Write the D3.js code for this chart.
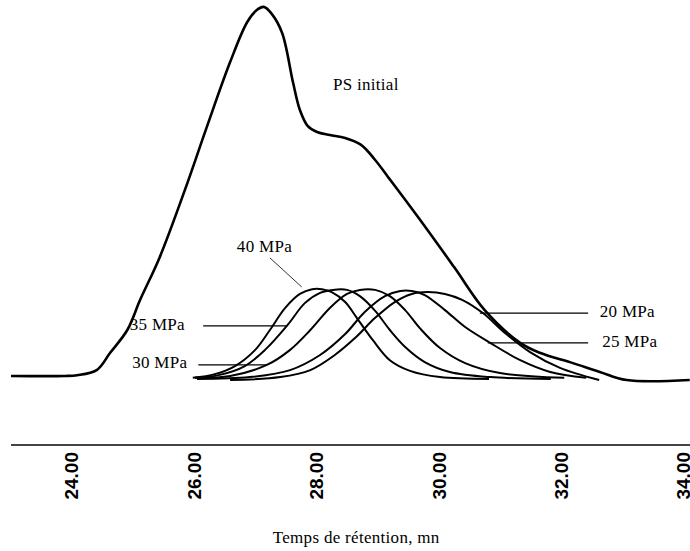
<!DOCTYPE html>
<html>
<head>
<meta charset="utf-8">
<script src="https://cdn.jsdelivr.net/npm/d3@7"></script>
<style>
  html, body { margin: 0; padding: 0; background: #fff; }
  svg { display: block; }
</style>
</head>
<body>
<svg id="chart" width="690" height="551"></svg>
<script>
// ---- Data (time in min, intensity in arbitrary units, 100 = PS peak) ----
const xTicks = [24, 26, 28, 30, 32, 34];

const psTime = [23.02, 23.90, 24.10, 24.42, 24.64, 24.92, 25.13, 25.45, 25.86, 26.22, 26.60, 26.88, 27.04, 27.15, 27.28, 27.45, 27.63, 27.74, 27.87, 28.02, 28.23, 28.48, 28.74, 28.97, 29.18, 29.67, 30.26, 30.76, 31.34, 31.66, 32.20, 32.64, 33.08, 34.11];
const psValue = [0, 0, 0.2, 1.6, 6.3, 12.5, 20.7, 32.3, 50.5, 67.7, 85.3, 96.2, 99.5, 100.3, 98.4, 93.2, 79.6, 72.3, 67.9, 66.3, 65.5, 64.7, 62.8, 58.7, 54.1, 43.2, 29.6, 17.9, 9.0, 6.3, 3.5, 1.1, -1.1, -1.1];

const t40 = [25.99, 26.35, 26.68, 27.01, 27.25, 27.50, 27.74, 27.94, 28.10, 28.26, 28.48, 28.67, 28.93, 29.21, 29.54, 30.03, 30.83];
const v40 = [-0.5, 0.5, 2.7, 7.1, 12.5, 18.5, 22.3, 23.6, 23.6, 22.8, 20.1, 15.8, 9.8, 4.3, 1.4, -0.3, -0.8];

const t35 = [26.03, 26.43, 26.84, 27.17, 27.55, 27.82, 28.07, 28.28, 28.51, 28.72, 28.97, 29.21, 29.46, 29.78, 30.19, 30.85, 31.84];
const v35 = [-0.5, 0.3, 2.7, 7.1, 14.1, 19.8, 22.6, 23.4, 23.4, 21.7, 17.7, 12.5, 7.9, 3.8, 1.1, -0.3, -0.8];

const t30 = [26.03, 26.60, 27.20, 27.58, 27.91, 28.23, 28.51, 28.72, 28.97, 29.21, 29.46, 29.70, 30.03, 30.44, 31.01, 32.06];
const v30 = [-0.5, 0, 3.0, 7.1, 12.5, 18.5, 22.3, 23.4, 23.4, 21.7, 17.9, 13.0, 7.6, 3.5, 0.8, -0.5];

const t25 = [26.06, 26.92, 27.58, 28.07, 28.48, 28.80, 29.13, 29.38, 29.57, 29.78, 30.11, 30.44, 30.85, 31.34, 31.83, 32.42];
const v25 = [-0.8, -0.3, 1.6, 5.7, 11.4, 17.4, 21.7, 23.1, 23.1, 22.0, 17.9, 13.3, 9.0, 4.3, 1.1, -0.5];

const t20 = [26.60, 27.42, 27.91, 28.31, 28.64, 28.97, 29.29, 29.57, 29.83, 30.11, 30.39, 30.73, 31.09, 31.50, 31.99, 32.63];
const v20 = [-1.1, -0.3, 1.6, 5.7, 10.3, 15.8, 20.1, 22.3, 22.8, 22.3, 20.7, 17.1, 11.7, 6.5, 2.2, -1.1];

const seriesNames = ["PS initial", "40 MPa", "35 MPa", "30 MPa", "25 MPa", "20 MPa"];

// label anchors (data units) and leader lines
const labelNames = ["PS initial", "40 MPa", "35 MPa", "30 MPa", "20 MPa", "25 MPa"];
const labelT = [28.28, 26.71, 24.96, 25.00, 32.64, 32.68];
const labelV = [77.7, 33.7, 12.5, 2.2, 16.0, 7.9];
const leaderT1 = [null, 27.25, 26.16, 26.08, 30.68, 30.81];
const leaderV1 = [null, 32.1, 13.6, 3.0, 17.1, 9.0];
const leaderT2 = [null, 27.77, 27.53, 27.20, 32.45, 32.45];
const leaderV2 = [null, 24.2, 13.6, 3.0, 17.1, 9.0];

// ---- Build ----
const svg = d3.select("#chart");
const x = d3.scaleLinear().domain([24, 34]).range([71, 683]);
const y = d3.scaleLinear().domain([0, 100]).range([376, 8]);

const zip = (ts, vs) => ts.map((t, i) => ({t, v: vs[i]}));
const series = [
  {name: seriesNames[0], pts: zip(psTime, psValue), w: 2.6},
  {name: seriesNames[1], pts: zip(t40, v40), w: 2},
  {name: seriesNames[2], pts: zip(t35, v35), w: 2},
  {name: seriesNames[3], pts: zip(t30, v30), w: 2},
  {name: seriesNames[4], pts: zip(t25, v25), w: 2},
  {name: seriesNames[5], pts: zip(t20, v20), w: 2}
];

const line = d3.line()
  .x(d => x(d.t))
  .y(d => y(d.v))
  .curve(d3.curveCatmullRom.alpha(0.5));

svg.append("g").selectAll("path")
  .data(series)
  .join("path")
  .attr("d", d => line(d.pts))
  .attr("fill", "none")
  .attr("stroke", "#000")
  .attr("stroke-width", d => d.w)
  .attr("stroke-linejoin", "round");

// leader lines
const leaders = labelNames.map((n, i) => ({n, t1: leaderT1[i], v1: leaderV1[i], t2: leaderT2[i], v2: leaderV2[i]}))
  .filter(d => d.t1 !== null);
svg.append("g").selectAll("line")
  .data(leaders)
  .join("line")
  .attr("x1", d => x(d.t1)).attr("y1", d => y(d.v1))
  .attr("x2", d => x(d.t2)).attr("y2", d => y(d.v2))
  .attr("stroke", "#000")
  .attr("stroke-width", d => d.n === "40 MPa" ? 0.8 : 1.2);

// labels
svg.append("g").selectAll("text")
  .data(labelNames.map((n, i) => ({n, t: labelT[i], v: labelV[i]})))
  .join("text")
  .attr("x", d => x(d.t))
  .attr("y", d => y(d.v))
  .attr("font-family", "'Liberation Serif', 'Times New Roman', serif")
  .attr("font-size", 17)
  .attr("letter-spacing", 0.3)
  .attr("fill", "#000")
  .text(d => d.n);

// axis
const axisY = 445;
svg.append("line")
  .attr("x1", 11).attr("x2", 690)
  .attr("y1", axisY).attr("y2", axisY)
  .attr("stroke", "#444").attr("stroke-width", 2);

const axis = d3.axisBottom(x)
  .tickValues(xTicks)
  .tickSize(0)
  .tickFormat(d3.format(".2f"));
const ag = svg.append("g").attr("transform", `translate(0,${axisY})`).call(axis);
ag.select(".domain").remove();
ag.selectAll("text")
  .attr("transform", "rotate(-90)")
  .attr("text-anchor", "end")
  .attr("x", -7)
  .attr("y", 0)
  .attr("dy", "0.36em")
  .attr("font-family", "'Liberation Sans', Arial, sans-serif")
  .attr("font-weight", "bold")
  .attr("font-size", 19)
  .attr("fill", "#000");

// axis title
svg.append("text")
  .attr("x", x(28.66))
  .attr("y", 543)
  .attr("text-anchor", "middle")
  .attr("font-family", "'Liberation Serif', 'Times New Roman', serif")
  .attr("font-size", 17)
  .attr("letter-spacing", 0.3)
  .attr("fill", "#000")
  .text("Temps de rétention, mn");
</script>
</body>
</html>
